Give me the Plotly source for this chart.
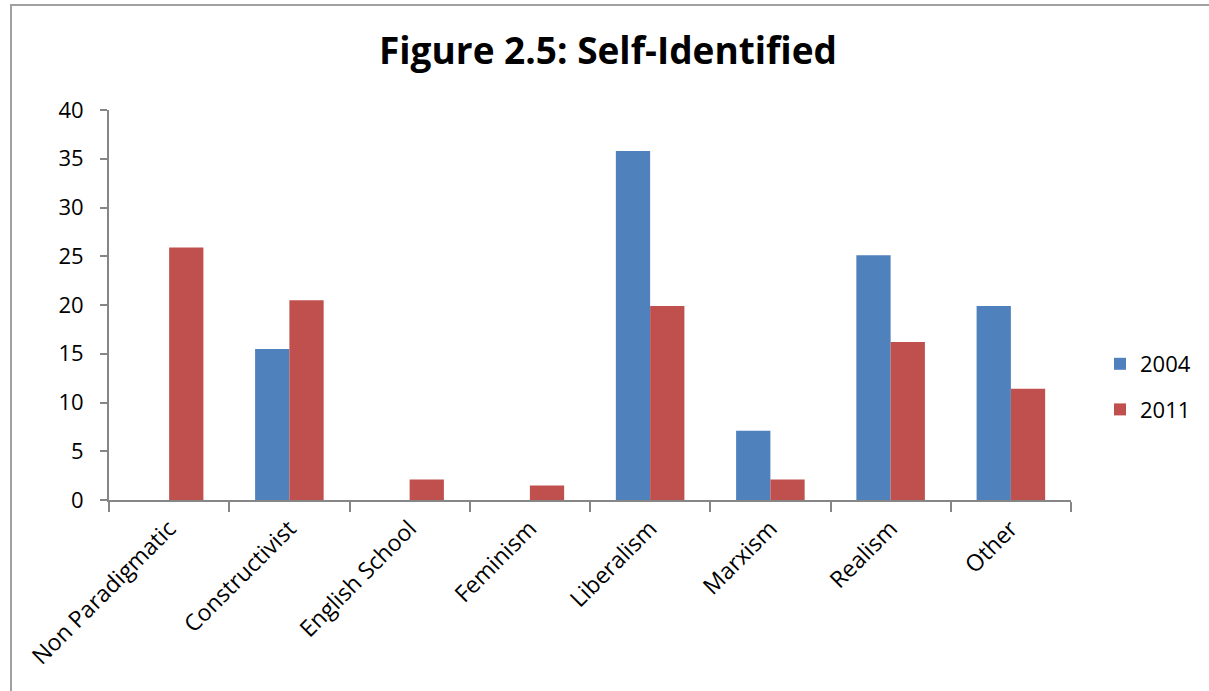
import plotly.graph_objects as go

categories = ["Non Paradigmatic", "Constructivist", "English School", "Feminism",
              "Liberalism", "Marxism", "Realism", "Other"]
values_2004 = [0, 15.5, 0, 0, 35.8, 7.1, 25.1, 19.9]
values_2011 = [25.9, 20.5, 2.1, 1.5, 19.9, 2.1, 16.2, 11.4]
y_ticks = [0, 5, 10, 15, 20, 25, 30, 35, 40]

FONT = "Open Sans"
W, H = 1209, 691
L, R, T, B = 109, 138, 110, 191

fig = go.Figure()
fig.add_trace(go.Bar(x=categories, y=values_2004, name="2004",
                     marker=dict(color="#4F81BD", line=dict(width=0)), legendgroup="a"))
fig.add_trace(go.Bar(x=categories, y=values_2011, name="2011",
                     marker=dict(color="#C0504D", line=dict(width=0)), legendgroup="b"))

pw = W - L - R
ph = H - T - B

def px_x(p):
    return (p - L) / pw

def px_y(p):
    return (H - B - p) / ph

fig.update_layout(
    width=W, height=H,
    margin=dict(l=L, r=R, t=T, b=B, pad=0),
    paper_bgcolor="white", plot_bgcolor="white",
    barmode="group", bargap=0.43, bargroupgap=0,
    font=dict(family=FONT, color="black", size=22),
    title=dict(text="<b>Figure 2.5: Self-Identified</b>", x=608 / W, xanchor="center",
               y=1 - 51 / H, yanchor="middle",
               font=dict(family=FONT, size=37, color="black")),
    xaxis=dict(type="category", showline=True, linecolor="#868686", linewidth=2,
               ticks="outside", tickson="boundaries", ticklen=10, tickwidth=2, tickcolor="#868686",
               tickangle=-45, showgrid=False, zeroline=False, ticklabelstandoff=4,
               tickfont=dict(family=FONT, size=23, color="black")),
    yaxis=dict(range=[0, 40], tickvals=y_ticks, showline=True, linecolor="#868686", linewidth=2,
               ticks="outside", ticklen=7, tickwidth=2, tickcolor="#868686",
               showgrid=False, zeroline=False, ticklabelstandoff=12,
               tickfont=dict(family=FONT, size=22, color="black")),
    legend=dict(x=px_x(1100), xanchor="left", y=px_y(387), yanchor="middle",
                font=dict(family=FONT, size=22, color="black"),
                tracegroupgap=14, itemwidth=30, bgcolor="rgba(0,0,0,0)"),
    showlegend=True,
    shapes=[dict(type="rect", xref="paper", yref="paper",
                 x0=px_x(11), x1=px_x(1216), y0=px_y(720), y1=px_y(5),
                 line=dict(color="#A0A0A0", width=2), fillcolor="rgba(0,0,0,0)", layer="below")],
)

fig.write_html("out.html")
